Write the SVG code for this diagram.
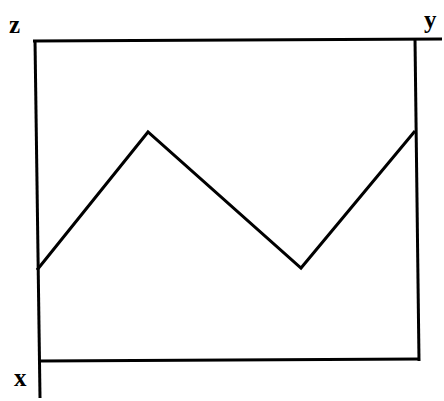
<svg xmlns="http://www.w3.org/2000/svg" width="444" height="401" viewBox="0 0 444 401">
<style>
.ln{stroke:#000;stroke-width:3;fill:none;stroke-linejoin:miter}
.lb{font-family:"Liberation Serif",serif;font-weight:bold;font-size:25px;fill:#000}
</style>
<rect width="444" height="401" fill="#fff"/>
<g id="frame">
<path class="ln" d="M33,41 L442,39"/>
<path class="ln" d="M35,40 L40,398"/>
<path class="ln" d="M415,39 L419,361"/>
<path class="ln" d="M40,361 L420,359"/>
</g>
<g id="curve">
<path class="ln" d="M37,270 L148,132 L301,268 L415,131"/>
</g>
<g id="labels">
<text class="lb" x="9" y="33">z</text>
<text class="lb" x="424" y="28">y</text>
<text class="lb" x="14" y="386">x</text>
</g>
</svg>
